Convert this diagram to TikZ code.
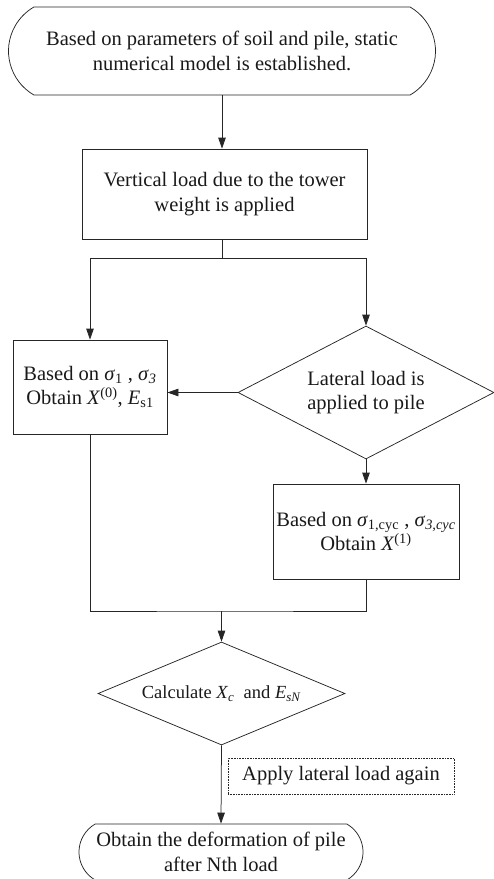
\documentclass[tikz,border=0pt]{standalone}
\usepackage{fontspec}
\setmainfont{Liberation Serif}
\usetikzlibrary{arrows.meta,shapes.geometric,shapes.misc}
\newcommand\gs{\textit{σ}}
\newcommand\lo[1]{\textsubscript{#1}}
\newcommand\hi[1]{\textsuperscript{#1}}
\begin{document}
\begin{tikzpicture}[x=1pt,y=-1pt,
  line width=0.75pt, draw=black!85,
  every node/.style={font=\fontsize{20.5}{24.5}\selectfont, align=center,
    inner sep=0pt, text=black!90},
  term/.style={draw, rounded rectangle, rounded rectangle arc length=120},
  stepbox/.style={draw, rectangle},
  decide/.style={draw, diamond},
  note/.style={draw, densely dotted, line width=0.6pt, rectangle},
  flow/.style={-{Triangle[length=11pt,width=7.5pt]}}]
\useasboundingbox (0,0) rectangle (494,879);

\node[term, minimum width=427pt, minimum height=88pt] (start) at (222,51)
  {Based on parameters of soil and pile, static\\numerical model is established.};
\node[stepbox, minimum width=285pt, minimum height=90pt] (vload) at (224.5,194)
  {Vertical load due to the tower\\weight is applied};
\node[stepbox, minimum width=154pt, minimum height=94pt] (static) at (90,387)
  {Based on \gs\lo{1} , \gs\lo{\textit{3}}\\Obtain \textit{X}\hi{(0)}, \textit{E}\lo{s1}};
\node[decide, aspect=2.1, minimum width=256pt, minimum height=133pt] (lateral) at (366,392.5)
  {Lateral load is\\applied to pile};
\node[stepbox, minimum width=186pt, minimum height=95pt] (cyclic) at (366,531.5)
  {Based on \gs\lo{1,cyc} , \gs\lo{\textit{3,cyc}}\\Obtain \textit{X}\hi{(1)}};
\node[decide, aspect=2.6, minimum width=247pt, minimum height=103pt,
  font=\fontsize{18.5}{22}\selectfont] (calc) at (221.5,693.5)
  {Calculate \textit{X}\lo{\textit{c}}\ \ and \textit{E}\lo{\textit{sN}}};
\node[term, minimum width=284pt, minimum height=56pt] (final) at (221,852)
  {Obtain the deformation of pile\\after Nth load};
\node[note, minimum width=226pt, minimum height=36pt] (again) at (341,776)
  {Apply lateral load again};

\coordinate (split) at (222,258);
\coordinate (join) at (221.5,611);

\draw[flow] (start.south) -- (start.south |- vload.north);
\draw (start.south |- vload.south) -- (split);
\draw[flow] (split) -| (static.north);
\draw[flow] (split) -| (lateral.north);
\draw[flow] (lateral.west) -- (lateral.west -| static.east);
\draw[flow] (lateral.south) -- (cyclic.north);
\draw (static.south) |- (join) -| (cyclic.south);
\draw[flow] (join) -- (calc.north);
\draw[flow] (calc.south) -- (final.north);
\end{tikzpicture}
\end{document}
